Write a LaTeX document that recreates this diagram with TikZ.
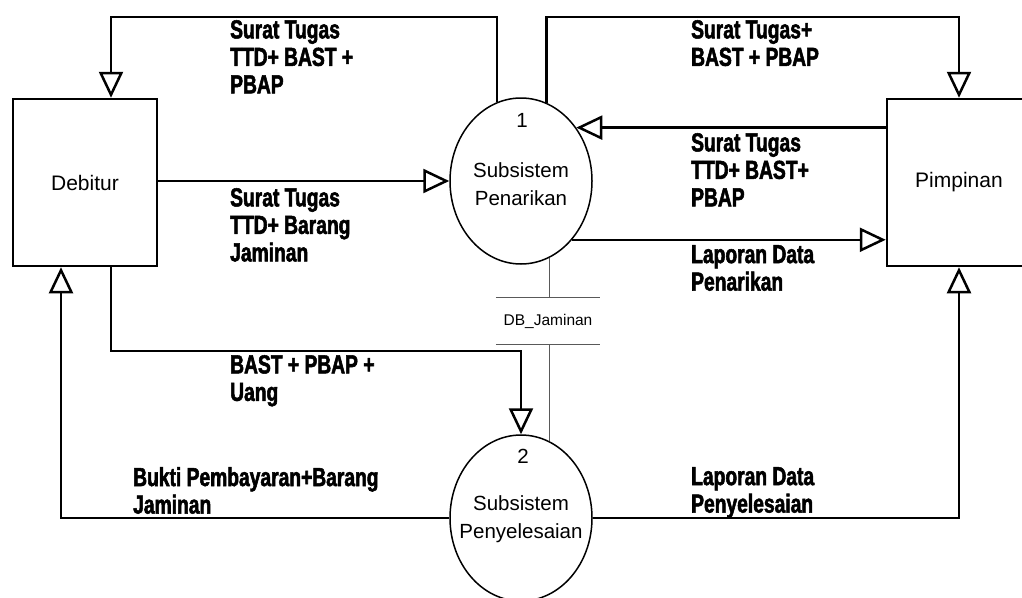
\documentclass[tikz,border=0pt]{standalone}
\usepackage{fontspec}
\setmainfont{Liberation Sans}
\newfontfamily\lblfont{Liberation Sans}[FakeStretch=0.74,BoldFeatures={FakeBold=2}]
\usetikzlibrary{arrows.meta,shapes.geometric}

\tikzset{
  entity/.style={draw, line width=2.5pt, minimum width=144pt, minimum height=167pt, inner sep=0pt},
  proc/.style={ellipse, draw, line width=1.5pt, minimum width=142pt, minimum height=166pt, inner sep=0pt},
  flow/.style={line width=2.5pt, -{Triangle[open,length=26pt,width=24pt]}},
  lbl/.style={anchor=north west, inner sep=0pt, align=left,
              font=\lblfont\bfseries\fontsize{26}{27.5}\selectfont},
  ptext/.style={inner sep=0pt, align=center, font=\fontsize{20.5}{28}\selectfont},
  link/.style={line width=1pt, draw=black!65}
}

\begin{document}
\begin{tikzpicture}[x=1pt, y=-1pt, font=\fontsize{21}{24}\selectfont]
  \useasboundingbox (0,0) rectangle (1022,597);
  \fill[white] (0,0) rectangle (1022,597);

  % external entities
  \node[entity] (deb) at (85,182.5) {Debitur};
  \node[entity] (pim) at (959,182.5) {Pimpinan};

  % processes
  \node[proc] (p1) at (521,181) {};
  \node[ptext] (n1) at (522,120) {1};
  \node[ptext] (t1) at (521,184) {Subsistem\\Penarikan};

  \node[proc] (p2) at (521,518) {};
  \node[ptext] (n2) at (523,456) {2};
  \node[ptext] (t2) at (521,519) {Subsistem\\Penyelesaian};

  % data store
  \node[minimum width=104pt, minimum height=46pt, inner sep=0pt,
        font=\fontsize{15.5}{17}\selectfont] (db) at (548,321) {DB\_Jaminan};
  \draw[link] (db.north west) -- (db.north east);
  \draw[link] (db.south west) -- (db.south east);
  \draw[link] (p1.-70) -- (p1.-70 |- db.north);
  \draw[link] (p2.70 |- db.south) -- (p2.70);

  % routing points
  \coordinate (topL) at (111,17);
  \coordinate (topR) at (959,17);
  \coordinate (midL) at (111,351);
  \coordinate (botL) at (61,518);

  % data flows
  \draw[flow] (p1.107) |- (topL) -- (topL |- deb.north);
  \draw[flow] (deb.east |- p1.west) -- (p1.west);
  \draw[flow] (p1.72) |- (topR) -- (topR |- pim.north);
  \draw[flow] (pim.west |- p1.44) -- (p1.44);
  \draw[flow] (p1.-49) -- (p1.-49 -| pim.west);
  \draw[flow] (midL |- deb.south) -- (midL) -| (p2.north);
  \draw[flow] (p2.west) -- (botL) -- (botL |- deb.south);
  \draw[flow] (p2.east) -| (pim.south);

  % flow labels
  \node[lbl] (l1) at (230,20)  {Surat Tugas\\TTD+ BAST +\\PBAP};
  \node[lbl] (l2) at (691,20)  {Surat Tugas+\\BAST + PBAP};
  \node[lbl] (l3) at (691,133) {Surat Tugas\\TTD+ BAST+\\PBAP};
  \node[lbl] (l4) at (230,188) {Surat Tugas\\TTD+ Barang\\Jaminan};
  \node[lbl] (l5) at (691,245) {Laporan Data\\Penarikan};
  \node[lbl] (l6) at (230,355) {BAST + PBAP +\\Uang};
  \node[lbl] (l7) at (133,467) {Bukti Pembayaran+Barang\\Jaminan};
  \node[lbl] (l8) at (691,467) {Laporan Data\\Penyelesaian};
\end{tikzpicture}
\end{document}
